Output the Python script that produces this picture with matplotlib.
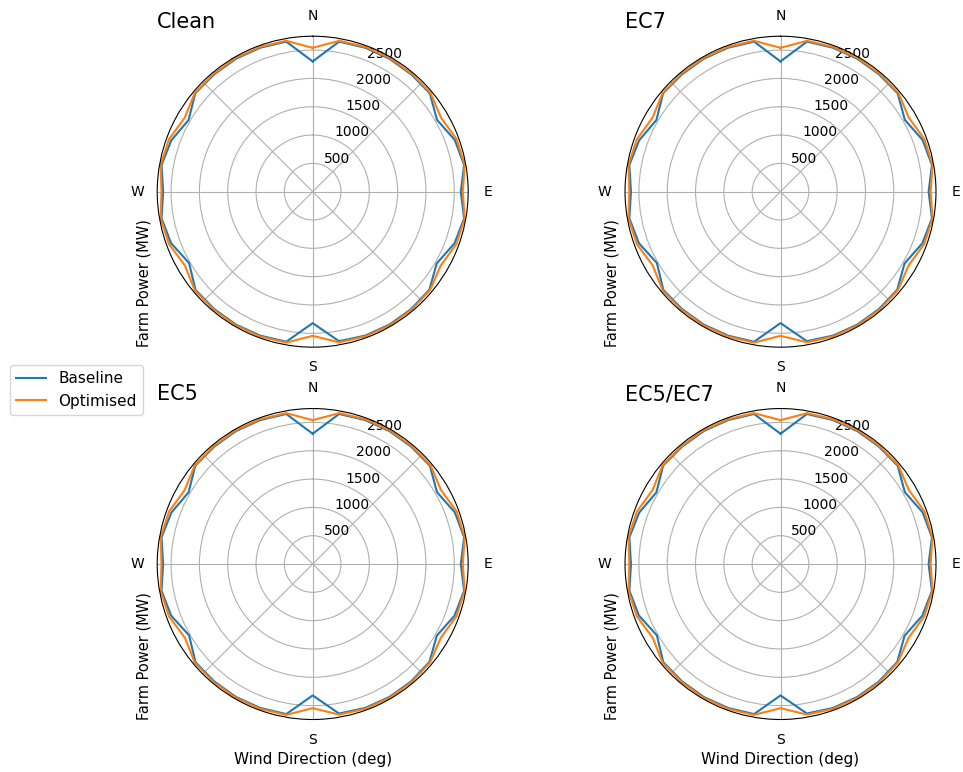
import numpy as np
import matplotlib.pyplot as plt

# Wind directions (deg, clockwise from north) and farm power (MW)
directions = np.arange(0, 360, 10)

baseline = [2300, 2690, 2705, 2710, 2705, 2700, 2535, 2670, 2715, 2615,
            2715, 2665, 2530, 2690, 2705, 2710, 2705, 2680, 2320, 2690,
            2705, 2710, 2705, 2700, 2520, 2660, 2710, 2640, 2710, 2655,
            2530, 2705, 2705, 2710, 2705, 2690]

optimised = [2540, 2705, 2720, 2725, 2720, 2715, 2615, 2705, 2725, 2650,
             2725, 2700, 2610, 2705, 2720, 2725, 2720, 2700, 2545, 2705,
             2720, 2725, 2720, 2715, 2605, 2700, 2725, 2670, 2725, 2700,
             2610, 2715, 2720, 2725, 2720, 2705]

cases = ['Clean', 'EC7', 'EC5', 'EC5/EC7']
compass = ['N', '', 'E', '', 'S', '', 'W', '']

fig = plt.figure(figsize=(9.63, 7.72), dpi=100)
positions = [[0.1632, 0.5503, 0.3230, 0.4028],
             [0.6490, 0.5503, 0.3230, 0.4028],
             [0.1632, 0.0680, 0.3230, 0.4028],
             [0.6490, 0.0680, 0.3230, 0.4028]]

theta = np.radians(np.append(directions, directions[0]))
for i, case in enumerate(cases):
    ax = fig.add_axes(positions[i], projection='polar')
    ax.set_theta_zero_location('N')
    ax.set_theta_direction(-1)
    ax.plot(theta, baseline + baseline[:1], label='Baseline')
    ax.plot(theta, optimised + optimised[:1], label='Optimised')
    ax.set_xticks(np.radians(np.arange(0, 360, 45)))
    ax.set_xticklabels(compass)
    ax.tick_params(axis='x', pad=4)
    ax.set_yticks([500, 1000, 1500, 2000, 2500])
    ax.set_ylim(0, 2745)
    ax.set_title(case, loc='left', fontsize=15, y=1.0)
    ax.set_ylabel('Farm Power (MW)', loc='bottom', fontsize=10.5)
    if i >= 2:
        ax.set_xlabel('Wind Direction (deg)', fontsize=11)
    if i == 0:
        handles, labels = ax.get_legend_handles_labels()

fig.legend(handles, labels, loc='center left', bbox_to_anchor=(0.002, 0.495),
           fontsize=11)
fig.savefig('out.png', dpi=100)
